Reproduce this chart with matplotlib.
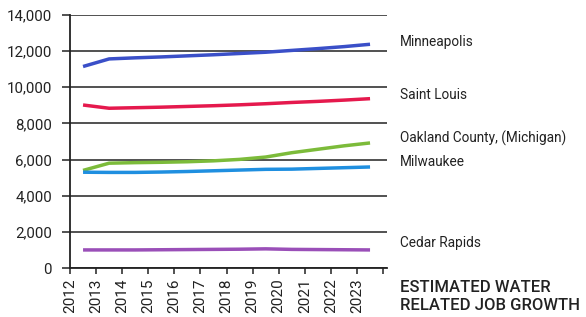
import matplotlib
matplotlib.use("Agg")
import matplotlib.pyplot as plt

years = [2012.5, 2013.5, 2014.5, 2015.5, 2016.5, 2017.5, 2018.5, 2019.5, 2020.5, 2021.5, 2022.5, 2023.5]
minneapolis = [11150, 11570, 11630, 11680, 11740, 11800, 11870, 11940, 12040, 12140, 12250, 12380]
saint_louis = [9020, 8840, 8870, 8900, 8940, 8980, 9030, 9090, 9160, 9220, 9290, 9370]
oakland = [5400, 5800, 5830, 5850, 5880, 5930, 6010, 6140, 6380, 6570, 6760, 6920]
milwaukee = [5300, 5290, 5290, 5310, 5340, 5380, 5420, 5460, 5470, 5510, 5550, 5590]
cedar_rapids = [1000, 1000, 1000, 1010, 1020, 1030, 1040, 1060, 1030, 1020, 1010, 1000]

series_names = ["Minneapolis", "Saint Louis", "Oakland County, (Michigan)", "Milwaukee", "Cedar Rapids"]
series_vals = [minneapolis, saint_louis, oakland, milwaukee, cedar_rapids]
colors = ["#3a4fc8", "#e5194d", "#7cbb3a", "#1f8fe0", "#9a4fb8"]

xticks = list(range(2012, 2025))
xticklabels = [str(y) for y in range(2012, 2024)] + [""]
yticks = list(range(0, 14001, 2000))
yticklabels = [f"{v:,}" for v in yticks]

W, H = 586, 317
fig = plt.figure(figsize=(W / 100, H / 100), dpi=100)
ax = fig.add_axes([70 / W, 49 / H, 317 / W, 253 / H])

for vals, c in zip(series_vals, colors):
    ax.plot(years, vals, color=c, lw=2.5, solid_capstyle="butt", zorder=3)

ax.set_xlim(2012, 2024.15)
ax.set_ylim(0, 14000)
ax.set_xticks(xticks)
ax.set_xticklabels(xticklabels, rotation=90, fontsize=11, family="Roboto", color="#222222")
ax.set_yticks(yticks)
ax.set_yticklabels(yticklabels, fontsize=10.8, family="Roboto", color="#222222")
ax.grid(axis="y", color="#222222", lw=1.1, zorder=1)
for s in ["top", "right"]:
    ax.spines[s].set_visible(False)
for s in ["left", "bottom"]:
    ax.spines[s].set_color("#222222")
    ax.spines[s].set_linewidth(1.3)
ax.tick_params(axis="y", length=6, width=1.1, color="#222222", pad=7)
ax.tick_params(axis="x", length=4.5, width=1.1, color="#222222", pad=3)

label_y = [42, 95, 138, 162, 243]
for name, py in zip(series_names, label_y):
    fig.text(400 / W, 1 - py / H, name, fontsize=9.8, va="center", ha="left",
             color="#222222", family="Roboto")

fig.text(400 / W, 1 - 287 / H, "ESTIMATED WATER", fontsize=12, va="center", ha="left",
         color="#222222", family="Roboto", fontweight="medium")
fig.text(400 / W, 1 - 306 / H, "RELATED JOB GROWTH", fontsize=12, va="center", ha="left",
         color="#222222", family="Roboto", fontweight="medium")

fig.savefig("out.png", dpi=100)
